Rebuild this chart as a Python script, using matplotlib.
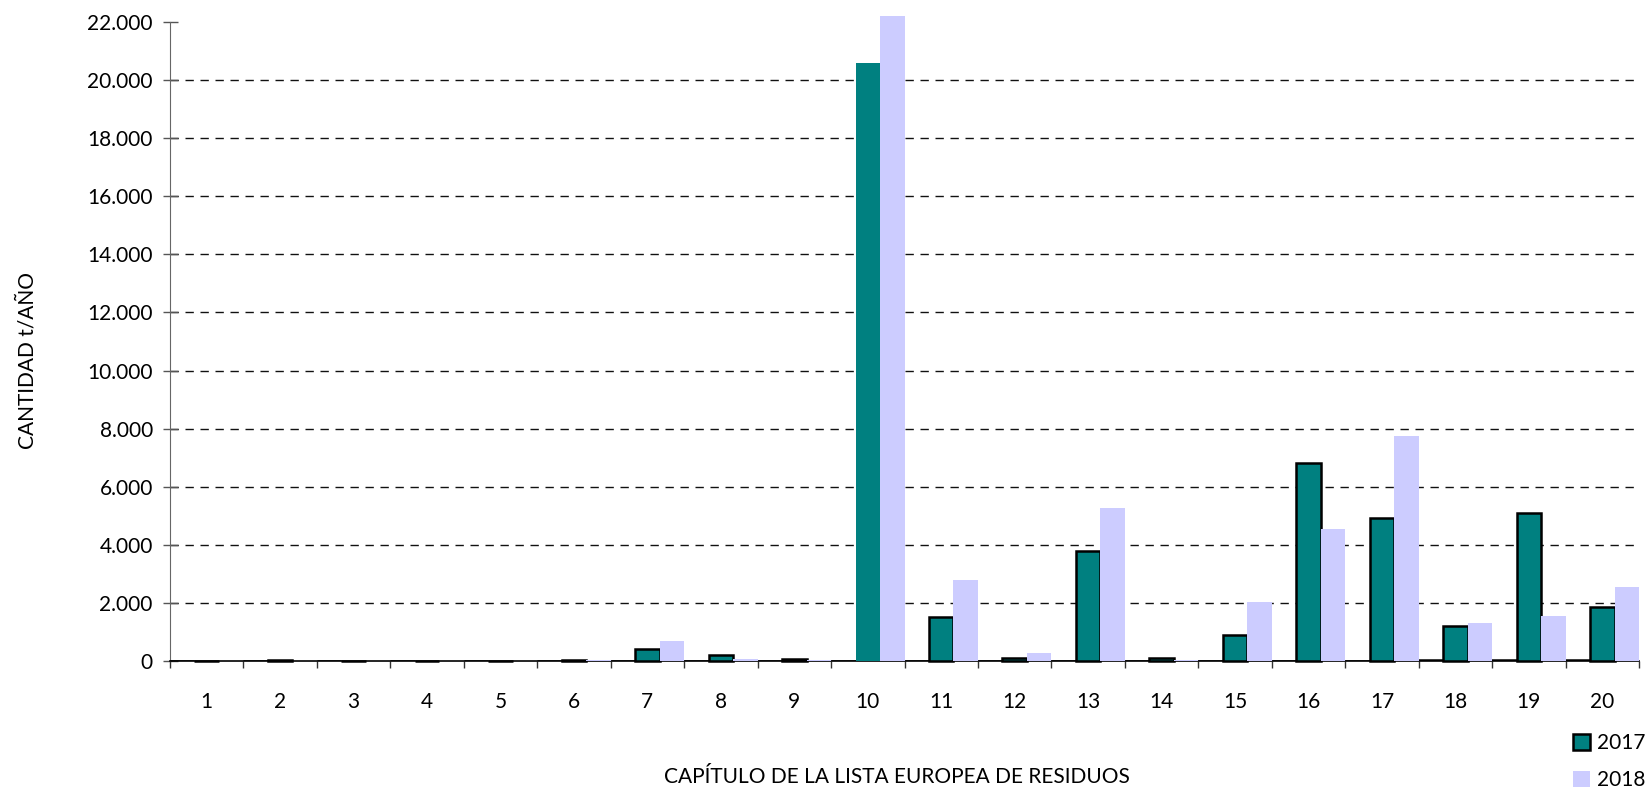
import numpy as np
import matplotlib
matplotlib.use("Agg")
import matplotlib.pyplot as plt

plt.rcParams['font.family'] = ['Lato', 'DejaVu Sans']

capitulos = [str(i) for i in range(1, 21)]
# serie del propio nº de capítulo (se ve como línea negra en la base)
serie_cap = [1, 2, 3, 4, 5, 6, 7, 8, 9, 10, 11, 12, 13, 14, 15, 16, 17, 18, 19, 20]
v2017 = [0, 20, 5, 0, 5, 30, 400, 210, 60, 20600, 1500, 110, 3800, 90, 900, 6800, 4930, 1220, 5090, 1850]
v2018 = [0, 5, 0, 0, 0, 20, 680, 70, 20, 22200, 2800, 290, 5270, 25, 2030, 4550, 7750, 1310, 1550, 2550]
yticks = list(range(0, 22001, 2000))

def fmt(v):
    return "{:,}".format(v).replace(",", ".")

fig = plt.figure(figsize=(16.5, 7.91), dpi=100)
ax = fig.add_axes([170/1650, 1-661/791, (1639-170)/1650, (661-22)/791])

x = np.arange(len(capitulos))
w = 1/3

ax.bar(x - w, serie_cap, w, color="#9999FF", edgecolor="black", linewidth=1.8, zorder=3)
edges = ["black"] * len(v2017)
edges[9] = "none"
ax.bar(x, v2017, w, color="#008080", edgecolor=edges, linewidth=1.8, zorder=3,
       label="2017", clip_on=False)
ax.bar(x + w, v2018, w, color="#CCCCFF", edgecolor="none", zorder=3,
       label="2018", clip_on=False)

ax.set_xlim(-0.5, len(capitulos) - 0.5)
ax.set_ylim(0, 22000)

ax.set_yticks(yticks)
ax.set_yticklabels([fmt(v) for v in yticks], fontsize=15)
ax.tick_params(axis="y", direction="inout", length=10.8, width=1, color="#555555", pad=7)

ax.set_xticks(np.arange(len(capitulos) + 1) - 0.5)
ax.set_xticklabels([])
ax.set_xticks(x, minor=True)
ax.set_xticklabels(capitulos, minor=True, fontsize=15)
ax.tick_params(axis="x", which="major", direction="out", length=5, width=1, color="#333333")
ax.tick_params(axis="x", which="minor", length=0, pad=22)

for v in yticks[1:-1]:
    ax.axhline(v, color="#111111", linewidth=1, dashes=(6, 4.8), zorder=1)

ax.spines["top"].set_visible(False)
ax.spines["right"].set_visible(False)
ax.spines["left"].set_color("#666666")
ax.spines["bottom"].set_color("black")
ax.spines["bottom"].set_linewidth(1.2)

fig.text(27/1650, 1-360/791, "CANTIDAD t/AÑO", rotation=90, ha="center", va="center", fontsize=15)
fig.text(897/1650, 1-777/791, "CAPÍTULO DE LA LISTA EUROPEA DE RESIDUOS", ha="center", va="center", fontsize=15)

ax.legend(loc="upper left", bbox_to_anchor=(1573/1650, 1-733/791), bbox_transform=fig.transFigure,
          frameon=False, fontsize=15, handlelength=0.82, handleheight=0.82,
          handletextpad=0.34, labelspacing=0.83, borderpad=0, borderaxespad=0)

fig.savefig("out.png", dpi=100)
plt.close()
